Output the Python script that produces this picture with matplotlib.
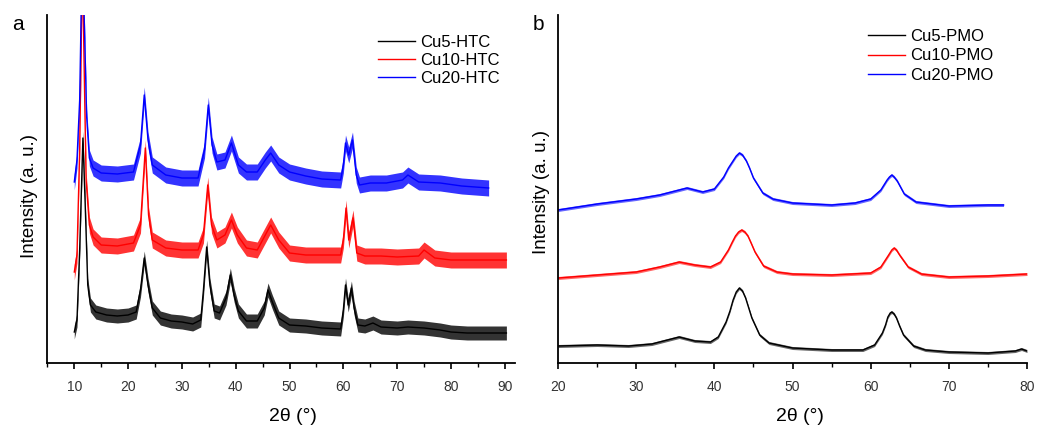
import matplotlib
matplotlib.use("Agg")
import matplotlib.pyplot as plt
from matplotlib.ticker import MultipleLocator

plt.rcParams['font.family'] = ['Liberation Sans', 'DejaVu Sans']

# ---------------- data (intensity in a.u.) ----------------
# Panel a: HTC samples
cu5_htc_x = [10.0, 10.5, 11.0, 11.6, 12.0, 12.5, 13.0, 14, 16, 18, 20, 21.5, 22.3, 23.0, 23.7, 24.5,
             26, 28, 30, 32, 33.5, 34.0, 34.6, 35.2, 36, 37, 38.2, 39.0, 39.7, 40.5, 42, 44, 45.3,
             46.0, 46.8, 48, 50, 53, 56, 59.5, 60.0, 60.4, 60.9, 61.5, 62.0, 62.7, 64, 65.5, 67,
             70, 72, 75, 78, 80, 83, 86, 88, 90.3]
cu5_htc_y = [31, 43, 113, 225, 163, 78, 58, 51, 48, 47, 48, 51, 73, 105, 78, 55,
             45, 42, 41, 39, 43, 73, 116, 78, 52, 50, 65, 88, 68, 52, 42, 42, 55,
             73, 61, 45, 38, 37, 35, 34, 53, 78, 58, 75, 55, 38, 37, 40, 36,
             35, 36, 35, 33, 31, 30, 30, 30, 30]

cu10_htc_x = [10.0, 10.5, 11.0, 11.5, 12.2, 12.8, 13.5, 15, 18, 21, 22.3, 23.2, 23.8, 24.5, 27, 30,
              33, 34.0, 34.8, 35.5, 36.5, 38, 39.2, 40.3, 42, 44, 45.5, 46.5, 48, 50, 53, 56, 59.5,
              60.0, 60.5, 61.0, 61.8, 62.5, 64, 67, 70, 74, 75, 77, 80, 85, 90.3]
cu10_htc_y = [91, 108, 213, 400, 183, 138, 126, 118, 117, 120, 138, 215, 148, 123, 115, 113,
              113, 128, 178, 138, 123, 128, 143, 128, 115, 113, 128, 138, 123, 110, 108, 108, 108,
              123, 155, 123, 145, 110, 107, 107, 106, 107, 113, 105, 103, 103, 103]

cu20_htc_x = [10.0, 10.5, 11.0, 11.5, 12.3, 12.8, 13.5, 15, 18, 21, 22.3, 23.0, 23.7, 24.5, 27, 30,
              33, 34.2, 34.9, 35.6, 36.5, 38, 39.2, 40.5, 42, 44, 45.5, 46.5, 48, 50, 53, 56, 59.5,
              60.0, 60.4, 61.0, 61.7, 62.4, 63, 65, 68, 71, 72, 74, 78, 82, 87]
cu20_htc_y = [181, 203, 263, 420, 246, 205, 195, 190, 189, 191, 218, 268, 223, 198, 188, 185,
              185, 213, 258, 218, 201, 203, 220, 198, 191, 191, 203, 210, 198, 191, 187, 184, 183,
              198, 220, 208, 223, 188, 178, 180, 180, 183, 188, 181, 180, 177, 175]

# noise half-width of the traces (a.u.)
htc_noise = [7, 8, 8]

# Panel b: PMO samples
cu5_pmo_x = [20, 25, 29, 32, 35.5, 37.5, 39.5, 40.5, 41.5, 42.0, 42.4, 42.8, 43.2, 43.6, 44.0, 44.4,
             44.8, 45.8, 47, 50, 55, 59, 60.5, 61.5, 61.9, 62.2, 62.5, 62.7, 63.0, 63.3, 63.7,
             64.2, 65.5, 67, 70, 75, 78.5, 79.3, 80]
cu5_pmo_y = [17, 18, 17, 19, 26, 22, 21, 26, 41, 52, 63, 71, 75, 72, 65, 55,
             45, 28, 20, 15, 13, 13, 18, 30, 38, 46, 50, 51, 49, 45, 37,
             28, 17, 13, 11, 10, 12, 14, 12]

cu10_pmo_x = [20, 25, 30, 33, 35.5, 37.5, 39.5, 40.8, 41.8, 42.3, 42.7, 43.1, 43.5, 43.9, 44.3,
              44.7, 45.2, 46.3, 48, 50, 55, 60, 61.3, 62.3, 62.7, 63.0, 63.3, 63.7, 64.8, 66.5,
              70, 75, 80]
cu10_pmo_y = [85, 88, 91, 96, 101, 98, 96, 101, 113, 121, 127, 131, 133, 131, 127,
              120, 111, 97, 91, 89, 88, 90, 96, 108, 113, 115, 113, 108, 96, 89,
              86, 87, 89]

cu20_pmo_x = [20, 25, 30, 33, 36.5, 38.5, 40.0, 41.2, 41.8, 42.3, 42.8, 43.2, 43.6, 44.1, 44.5,
              45.0, 46.2, 47.5, 50, 55, 58, 60, 61.3, 62.1, 62.4, 62.7, 63.0, 63.4, 64.3, 65.8,
              70, 75, 77]
cu20_pmo_y = [153, 159, 164, 168, 175, 171, 174, 186, 195, 201, 207, 210, 208, 202, 195,
              185, 170, 164, 160, 158, 160, 164, 173, 183, 186, 188, 186, 182, 169, 161,
              157, 158, 158]

pmo_noise = [1.5, 1.5, 1.5]

htc_labels = ['Cu5-HTC', 'Cu10-HTC', 'Cu20-HTC']
pmo_labels = ['Cu5-PMO', 'Cu10-PMO', 'Cu20-PMO']
colors = ['#000000', '#ff0000', '#0000ff']

# ---------------- figure ----------------
W, H = 1038, 430
fig = plt.figure(figsize=(W / 100, H / 100), dpi=100)

def px_axes(x0, x1, ytop, ybot):
    return fig.add_axes([x0 / W, 1 - ybot / H, (x1 - x0) / W, (ybot - ytop) / H])

ax_a = px_axes(47, 515, 15, 363)
ax_b = px_axes(558, 1027, 15, 363)

def draw(ax, xs, ys, noises, labels, alpha):
    for x, y, n, lab, c in zip(xs, ys, noises, labels, colors):
        lo = [v - n for v in y]
        hi = [v + n for v in y]
        ax.fill_between(x, lo, hi, color=c, alpha=alpha, linewidth=0)
        ax.plot(x, y, color=c, lw=1.0, label=lab)

draw(ax_a, [cu5_htc_x, cu10_htc_x, cu20_htc_x], [cu5_htc_y, cu10_htc_y, cu20_htc_y],
     htc_noise, htc_labels, 0.8)
draw(ax_b, [cu5_pmo_x, cu10_pmo_x, cu20_pmo_x], [cu5_pmo_y, cu10_pmo_y, cu20_pmo_y],
     pmo_noise, pmo_labels, 0.6)

ax_a.set_xlim(4.93, 91.9)
ax_b.set_xlim(20, 80)
for ax in (ax_a, ax_b):
    ax.set_ylim(0, 348)
    ax.xaxis.set_major_locator(MultipleLocator(10))
    ax.xaxis.set_minor_locator(MultipleLocator(5))
    ax.set_yticks([])
    for s in ('top', 'right'):
        ax.spines[s].set_visible(False)
    ax.spines['left'].set_linewidth(1.3)
    ax.spines['bottom'].set_linewidth(1.3)
    ax.tick_params(axis='x', which='major', direction='out', length=4, width=1.2,
                   labelsize=10, labelcolor='#333333', pad=8)
    ax.tick_params(axis='x', which='minor', direction='out', length=3, width=1.0)
    ax.set_xlabel('2θ (°)', fontsize=14, va='top')
    ax.set_ylabel('Intensity (a. u.)', fontsize=13.5)

ax_a.xaxis.set_label_coords(0.526, -0.128)
ax_b.xaxis.set_label_coords(0.516, -0.128)
ax_a.yaxis.set_label_coords(-0.019, 0.48)
ax_b.yaxis.set_label_coords(-0.016, 0.49)

def add_legend(ax, x_px, y_px, spacing):
    leg = ax.legend(loc='upper left', bbox_to_anchor=(x_px / W, 1 - y_px / H),
                    bbox_transform=fig.transFigure, frameon=False, fontsize=12,
                    handlelength=2.2, handletextpad=0.3, labelspacing=spacing,
                    borderpad=0, borderaxespad=0)
    for line in leg.get_lines():
        line.set_linewidth(1.0)

add_legend(ax_a, 378, 35, 0.18)
add_legend(ax_b, 868, 29, 0.27)

fig.text(12 / W, 1 - 24 / H, 'a', fontsize=15, va='center', ha='left')
fig.text(533 / W, 1 - 24 / H, 'b', fontsize=15, va='center', ha='left')

fig.savefig('out.png', dpi=100)
